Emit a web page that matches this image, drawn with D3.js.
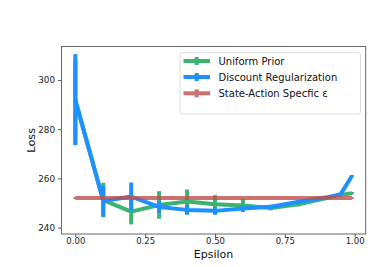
<!DOCTYPE html>
<html>
<head>
<meta charset="utf-8">
<script src="https://cdn.jsdelivr.net/npm/d3@7"></script>
<style>
  body { margin: 0; background: #fff; }
  text { font-family: "DejaVu Sans", sans-serif; }
</style>
</head>
<body>
<svg id="chart" width="374" height="267"></svg>
<script>
// data
const epsilons = [0, 0.1, 0.2, 0.3, 0.4, 0.5, 0.6, 0.7, 0.8, 0.9, 0.95, 0.99];

const uniformMean = [291.5, 251.2, 246.5, 249.2, 250.6, 249.5, 249.0, 248.0, 249.5, 252.0, 253.3, 254.0];
const uniformErr  = [17, 7, 5.2, 5.6, 4.9, 3.7, 2.7, 1.0, 0.8, 0.6, 0.5, 0.5];

const discountMean = [292.0, 250.8, 252.6, 248.4, 247.2, 246.8, 247.8, 248.5, 250.5, 252.3, 253.6, 261.0];
const discountErr  = [18.5, 6.2, 5.7, 2.4, 2.0, 1.6, 1.2, 0.8, 0.6, 0.5, 0.4, 0.4];

const stateActionMean = [252, 252, 252, 252, 252, 252, 252, 252, 252, 252, 252, 252];
const stateActionErr  = [0.4, 0.4, 0.4, 0.4, 0.4, 0.4, 0.4, 0.4, 0.4, 0.4, 0.4, 0.4];

const seriesNames = ["Uniform Prior", "Discount Regularization", "State-Action Specfic \u03b5"];
const xTicks = [0, 0.25, 0.5, 0.75, 1.0];
const yTicks = [240, 260, 280, 300];

const series = [
  { name: seriesNames[0], mean: uniformMean, err: uniformErr, color: "#3cb371", opacity: 1 },
  { name: seriesNames[1], mean: discountMean, err: discountErr, color: "#1e90ff", opacity: 1 },
  { name: seriesNames[2], mean: stateActionMean, err: stateActionErr, color: "#c0504d", opacity: 0.8 }
];

const svg = d3.select("#chart");
const margin = { left: 61.5, right: 374 - 365.7, top: 46.5, bottom: 267 - 234 };
const width = 374, height = 267;

const x = d3.scaleLinear()
  .domain([-0.0495, 1.0395])
  .range([margin.left, width - margin.right]);

const y = d3.scaleLinear()
  .domain([237.4, 313.6])
  .range([height - margin.bottom, margin.top]);

// lines + error bars
const lineGen = d3.line()
  .x((d, i) => x(epsilons[i]))
  .y(d => y(d));

series.forEach(s => {
  const g = svg.append("g").attr("opacity", s.opacity);
  g.append("path")
    .datum(s.mean)
    .attr("d", lineGen)
    .attr("fill", "none")
    .attr("stroke", s.color)
    .attr("stroke-width", 4)
    .attr("stroke-linejoin", "round");
  g.selectAll(".err")
    .data(s.mean)
    .join("line")
      .attr("class", "err")
      .attr("x1", (d, i) => x(epsilons[i]))
      .attr("x2", (d, i) => x(epsilons[i]))
      .attr("y1", (d, i) => y(d - s.err[i]))
      .attr("y2", (d, i) => y(d + s.err[i]))
      .attr("stroke", s.color)
      .attr("stroke-width", 4);
});

// axes
const xAxis = d3.axisBottom(x)
  .tickValues(xTicks)
  .tickFormat(d3.format(".2f"))
  .tickSizeOuter(0)
  .tickSize(3)
  .tickPadding(1);
svg.append("g")
  .attr("transform", `translate(0,${height - margin.bottom})`)
  .call(xAxis)
  .call(g => g.selectAll("text").attr("font-size", 8.5).attr("fill", "#222").style("font-family", "DejaVu Sans"))
  .call(g => g.selectAll("line").attr("stroke", "#555"))
  .call(g => g.select(".domain").remove());

const yAxis = d3.axisLeft(y)
  .tickValues(yTicks)
  .tickSizeOuter(0)
  .tickSize(3.5)
  .tickPadding(3);
svg.append("g")
  .attr("transform", `translate(${margin.left},0)`)
  .call(yAxis)
  .call(g => g.selectAll("text").attr("font-size", 8.8).attr("fill", "#222").style("font-family", "DejaVu Sans"))
  .call(g => g.selectAll("line").attr("stroke", "#555"))
  .call(g => g.select(".domain").remove());

// frame
svg.append("rect")
  .attr("x", margin.left)
  .attr("y", margin.top)
  .attr("width", width - margin.left - margin.right)
  .attr("height", height - margin.top - margin.bottom)
  .attr("fill", "none")
  .attr("stroke", "#666")
  .attr("stroke-width", 1);

// axis labels
svg.append("text")
  .attr("x", (margin.left + width - margin.right) / 2)
  .attr("y", 257.5)
  .attr("text-anchor", "middle")
  .attr("font-size", 11)
  .attr("fill", "#111")
  .text("Epsilon");

svg.append("text")
  .attr("transform", `translate(35,${(margin.top + height - margin.bottom) / 2}) rotate(-90)`)
  .attr("text-anchor", "middle")
  .attr("font-size", 11.3)
  .attr("fill", "#111")
  .text("Loss");

// legend
const legend = svg.append("g");
legend.append("rect")
  .attr("x", 180)
  .attr("y", 52.7)
  .attr("width", 180.5)
  .attr("height", 61.3)
  .attr("rx", 2.5)
  .attr("fill", "#fff")
  .attr("fill-opacity", 0.8)
  .attr("stroke", "#d6d6d6")
  .attr("stroke-width", 0.8);

const legendY = [61, 77, 93.3];
series.forEach((s, i) => {
  const row = legend.append("g").attr("opacity", s.opacity);
  row.append("line")
    .attr("x1", 183.5).attr("x2", 210)
    .attr("y1", legendY[i]).attr("y2", legendY[i])
    .attr("stroke", s.color).attr("stroke-width", 4);
  row.append("line")
    .attr("x1", 196.7).attr("x2", 196.7)
    .attr("y1", legendY[i] - 4).attr("y2", legendY[i] + 4)
    .attr("stroke", s.color).attr("stroke-width", 4);
  legend.append("text")
    .attr("x", 218.5)
    .attr("y", legendY[i] + 3.6)
    .attr("font-size", 10)
    .attr("fill", "#111")
    .text(s.name);
});
</script>
</body>
</html>
